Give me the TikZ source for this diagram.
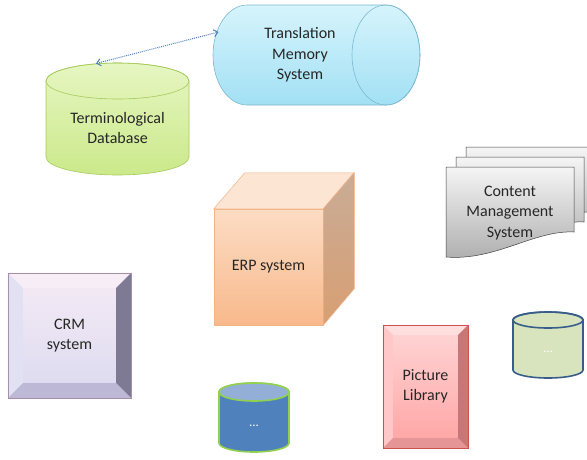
\documentclass[tikz,border=0pt]{standalone}
\usepackage{fontspec}
\setmainfont{Carlito}
\usetikzlibrary{calc,arrows.meta}

\definecolor{tmsedge}{HTML}{7BB8D0}
\definecolor{tmstop}{HTML}{D6F4FC}
\definecolor{tmsbot}{HTML}{A2E0F4}
\definecolor{tdbedge}{HTML}{A6CA5C}
\definecolor{tdbtop}{HTML}{E6F6C2}
\definecolor{tdbbot}{HTML}{CBE98A}
\definecolor{erpedge}{HTML}{F2B387}
\definecolor{erpfront}{HTML}{FCDCC4}
\definecolor{erpfrontb}{HTML}{F8B98C}
\definecolor{erplid}{HTML}{FDE5D3}
\definecolor{erpside}{HTML}{C9AC97}
\definecolor{erpsideb}{HTML}{D89F72}
\definecolor{linkblue}{HTML}{4A7EBB}
\definecolor{dbblue}{HTML}{4F81BD}
\definecolor{dbcap}{HTML}{93AFD8}
\definecolor{dbgreen}{HTML}{92D050}
\definecolor{dbnavy}{HTML}{385D8A}
\definecolor{dbsage}{HTML}{D7E4BD}

\def\bevel(#1)(#2)#3#4#5#6#7{%
	\fill[#3] (#1.north west) -- (#1.north east) -- ($(#1.north east)+(-#2,#2)$) -- ($(#1.north west)+(#2,#2)$) -- cycle;
	\fill[#4] (#1.north west) -- (#1.south west) -- ($(#1.south west)+(#2,-#2)$) -- ($(#1.north west)+(#2,#2)$) -- cycle;
	\fill[#5] (#1.north east) -- (#1.south east) -- ($(#1.south east)+(-#2,-#2)$) -- ($(#1.north east)+(-#2,#2)$) -- cycle;
	\fill[#6] (#1.south west) -- (#1.south east) -- ($(#1.south east)+(-#2,-#2)$) -- ($(#1.south west)+(#2,-#2)$) -- cycle;
	\draw[#7, line width=0.4pt] (#1.north west) rectangle (#1.south east);}
\def\cmspage(#1,#2){\draw[cmspage] (#1,#2) -- ++(128,0) -- ++(0,65) .. controls +(-40,-2) and +(50,4) .. ++(-128,25) -- cycle;}
% upright cylinder: centre x, top, bottom, x radius, y radius
\def\vcyl(#1,#2,#3)(#4,#5)[#6]{%
	\draw[#6] ({#1-#4},{#2+#5}) -- ({#1-#4},{#3-#5}) arc (180:0:#4 and #5) -- ({#1+#4},{#2+#5}) arc (0:-180:#4 and #5) -- cycle;}

\tikzset{
	txt/.style={font=\fontsize{16}{20.5}\selectfont, text=black!85, align=center},
	dots/.style={font=\fontsize{13}{16}\selectfont, text=white},
	cmspage/.style={draw=black!75, line width=0.5pt, top color=black!4, bottom color=black!32},
	link/.style={densely dotted, line width=1pt, color=linkblue, {Straight Barb[length=4pt,width=7pt]}-{Straight Barb[length=4pt,width=7pt]}}
}

\begin{document}
\begin{tikzpicture}[x=1pt, y=-1pt]
		%%%%% START %%%%%
		\useasboundingbox (0,0) rectangle (587,459);
		
		% translation memory
		\draw[draw=tmsedge, line width=0.6pt, top color=tmstop, bottom color=tmsbot] (247,5) -- (386,5) arc (-90:90:34 and 50) -- (247,105) arc (90:270:34 and 50) -- cycle;
		\draw[draw=tmsedge, line width=0.6pt] (386,55) ellipse (34 and 50);
		\node[txt] (tms) at (300,55) {Translation\\Memory\\System};
		
		% terminology
		\vcyl(117.5,63,175)(71.5,18)[draw=tdbedge, line width=0.6pt, top color=tdbtop, bottom color=tdbbot]
		\draw[draw=tdbedge, line width=0.6pt] (117.5,81) ellipse (71.5 and 18);
		\node[txt] (tdb) at (117.5,128) {Terminological\\Database};
		
		\coordinate (tdbrim) at (96,63.5);
		\coordinate (tmsrim) at (218.5,32);
		\draw[link] (tdbrim) -- (tmsrim);
		
		% ERP cube
		\node[txt, draw=erpedge, line width=0.5pt, top color=erpfront, bottom color=erpfrontb, minimum width=109pt, minimum height=116pt] (erp) at (268.5,267) {ERP system};
		\filldraw[draw=erpedge, line width=0.5pt, fill=erplid] (erp.north west) -- ++(31,-36) -- ++(109,0) -- (erp.north east) -- cycle;
		\draw[draw=erpedge, line width=0.5pt, top color=erpside, bottom color=erpsideb] (erp.north east) -- ++(31,-36) -- ++(0,116) -- (erp.south east) -- cycle;
		
		% content management
		\cmspage(466,147)
		\cmspage(456,157)
		\cmspage(446,167)
		\node[txt] (cms) at (510,213) {Content\\Management\\System};
		
		% CRM
		\node[txt, top color=violet!8!white, bottom color=violet!15!blue!10!white!95!black, minimum width=123pt, minimum height=125pt] (crm) at (69.5,335.5) {CRM\\system};
		\bevel(crm)(15){violet!7!white}{violet!12!blue!8!white!96!black}{violet!30!blue!20!white!60!black}{violet!25!blue!15!white!85!black}{violet!25!white!75!black}
		
		% picture library
		\node[txt, top color=red!16!white, bottom color=red!36!white, minimum width=85pt, minimum height=123pt] (pic) at (425.5,386.5) {Picture\\Library};
		\bevel(pic)(10){red!13!white}{red!22!white}{red!40!white!78!black}{red!35!white!90!black}{red!60!white!80!black}
		
		% other databases
		\vcyl(254,383,452)(35,9)[draw=dbgreen, line width=1.6pt, fill=dbblue]
		\filldraw[draw=dbgreen, line width=1.6pt, fill=dbcap] (254,392) ellipse (35 and 9);
		\node[dots] (blue) at (254,426) {...};
		\vcyl(548,312,378)(35,8)[draw=dbnavy, line width=1.6pt, fill=dbsage]
		\draw[draw=dbnavy, line width=1.6pt] (548,320) ellipse (35 and 8);
		\node[dots] (sage) at (548,352) {...};
		
		%%%%% END %%%%%
	\end{tikzpicture}
\end{document}
